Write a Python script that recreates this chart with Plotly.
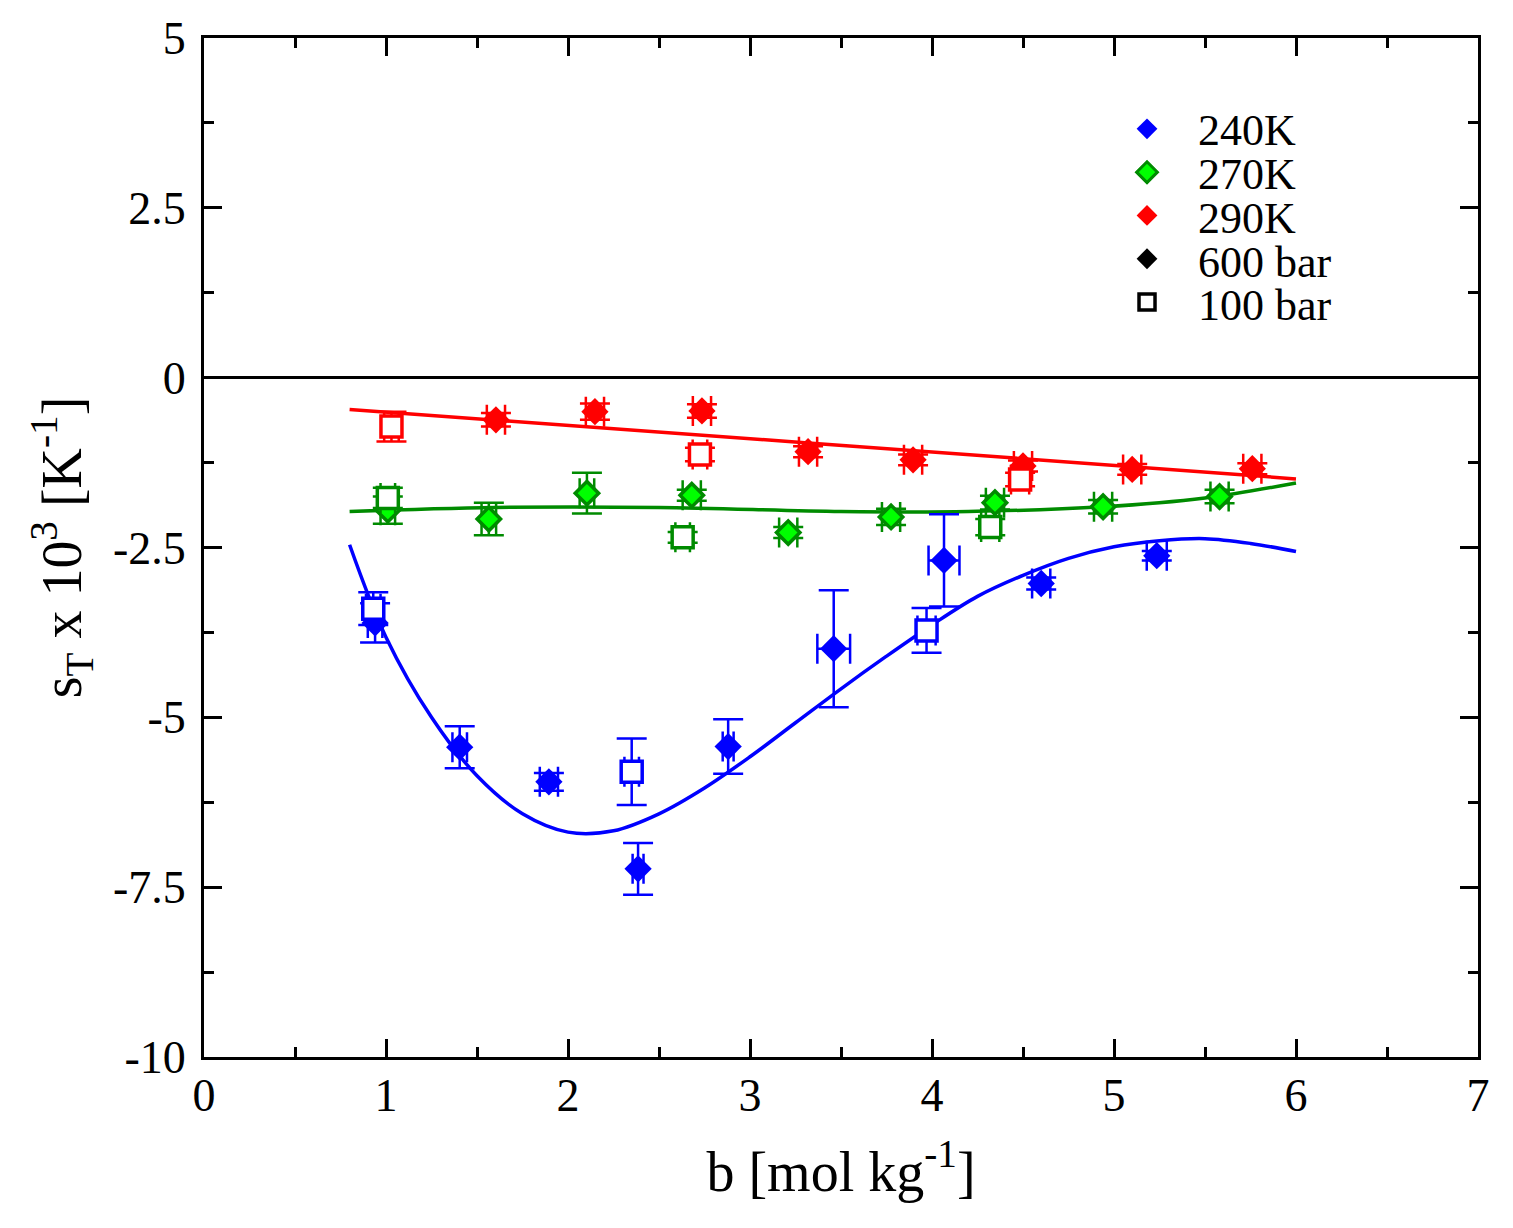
import plotly.graph_objects as go

# ---- data ----
blue600_x = [0.94, 1.405, 1.895, 2.385, 2.88, 3.46, 4.066, 4.60, 5.235]
blue600_y = [-3.61, -5.44, -5.95, -7.23, -5.43, -3.99, -2.69, -3.03, -2.62]
blue600_yerr = [0.29, 0.31, 0.13, 0.38, 0.40, 0.86, 0.68, 0.09, 0.07]
blue600_xerr = [0.04, 0.04, 0.05, 0.03, 0.03, 0.09, 0.085, 0.05, 0.055]

blue100_x = [0.93, 2.35, 3.97]
blue100_y = [-3.40, -5.80, -3.72]
blue100_yerr = [0.24, 0.49, 0.33]
blue100_xerr = [0.04, 0.04, 0.05]

green600_x = [1.01, 1.565, 2.104, 2.68, 3.21, 3.775, 4.346, 4.94, 5.58]
green600_y = [-1.95, -2.08, -1.70, -1.73, -2.28, -2.05, -1.84, -1.90, -1.75]
green600_yerr = [0.20, 0.24, 0.30, 0.08, 0.08, 0.12, 0.10, 0.10, 0.10]
green600_xerr = [0.04, 0.04, 0.04, 0.05, 0.05, 0.05, 0.05, 0.05, 0.05]

green100_x = [1.01, 2.63, 4.32]
green100_y = [-1.77, -2.35, -2.20]
green100_yerr = [0.15, 0.08, 0.12]
green100_xerr = [0.04, 0.04, 0.05]

red600_x = [1.604, 2.148, 2.736, 3.319, 3.896, 4.50, 5.10, 5.76]
red600_y = [-0.62, -0.50, -0.49, -1.09, -1.21, -1.30, -1.35, -1.34]
red600_yerr = [0.10, 0.12, 0.10, 0.08, 0.08, 0.08, 0.08, 0.08]
red600_xerr = [0.05, 0.05, 0.05, 0.05, 0.05, 0.05, 0.05, 0.05]

red100_x = [1.03, 2.725, 4.484]
red100_y = [-0.72, -1.13, -1.50]
red100_yerr = [0.22, 0.10, 0.10]
red100_xerr = [0.04, 0.04, 0.05]

# fitted curves
redfit_x = [0.8, 3.32, 6.0]
redfit_y = [-0.47, -0.96, -1.49]
greenfit_x = [0.8, 1.6, 2.5, 3.5, 4.2, 4.94, 5.5, 6.0]
greenfit_y = [-1.97, -1.91, -1.91, -1.97, -1.97, -1.90, -1.77, -1.55]
bluefit_x = [0.80, 1.00, 1.25, 1.50, 1.75, 2.00, 2.25, 2.50, 2.75, 3.00, 3.25, 3.50,
             3.75, 4.00, 4.25, 4.50, 4.75, 5.00, 5.25, 5.50, 5.75, 6.00]
bluefit_y = [-2.46, -3.82, -5.00, -5.86, -6.42, -6.69, -6.67, -6.42, -6.04, -5.58, -5.08, -4.58,
             -4.10, -3.64, -3.22, -2.91, -2.66, -2.49, -2.40, -2.37, -2.44, -2.56]

legend_names = ["240K", "270K", "290K", "600 bar", "100 bar"]
ytick_vals = [-10, -7.5, -5, -2.5, 0, 2.5, 5]
ytick_text = ["-10", "-7.5", "-5", "-2.5", "0", "2.5", "5"]
xtick_vals = [0, 1, 2, 3, 4, 5, 6, 7]

BLUE = "rgb(0,0,255)"
GREEN = "rgb(0,139,0)"
LIME = "rgb(0,255,0)"
RED = "rgb(255,0,0)"
FONT = "Liberation Serif, Times New Roman, serif"

fig = go.Figure()

# fit lines
for fx, fy, c in [(redfit_x, redfit_y, RED), (greenfit_x, greenfit_y, GREEN), (bluefit_x, bluefit_y, BLUE)]:
    fig.add_trace(go.Scatter(x=fx, y=fy, mode="lines", line=dict(color=c, width=3.5, shape="spline", smoothing=1.0),
                             showlegend=False, hoverinfo="skip"))

def pts(x, y, xe, ye, color, symbol, fill, lcolor, lw, size):
    fig.add_trace(go.Scatter(
        x=x, y=y, mode="markers", showlegend=False,
        marker=dict(symbol=symbol, size=size, color=fill, line=dict(color=lcolor, width=lw)),
        error_y=dict(type="data", array=ye, visible=True, color=color, thickness=2.5, width=15),
        error_x=dict(type="data", array=xe, visible=True, color=color, thickness=2.5, width=15),
    ))

pts(red600_x, red600_y, red600_xerr, red600_yerr, RED, "diamond", RED, RED, 0, 21)
pts(red100_x, red100_y, red100_xerr, red100_yerr, RED, "square", "white", RED, 3.5, 21)
pts(green600_x, green600_y, green600_xerr, green600_yerr, GREEN, "diamond", LIME, GREEN, 3.5, 18)
pts(green100_x, green100_y, green100_xerr, green100_yerr, GREEN, "square", "white", GREEN, 3.5, 21)
pts(blue600_x, blue600_y, blue600_xerr, blue600_yerr, BLUE, "diamond", BLUE, BLUE, 0, 21)
pts(blue100_x, blue100_y, blue100_xerr, blue100_yerr, BLUE, "square", "white", BLUE, 3.5, 21)

# legend symbols (labels drawn as annotations to match the tight row spacing)
leg_styles = [
    dict(symbol="diamond", color=BLUE, line=dict(width=0)),
    dict(symbol="diamond", color=LIME, line=dict(color=GREEN, width=3)),
    dict(symbol="diamond", color=RED, line=dict(width=0)),
    dict(symbol="diamond", color="black", line=dict(width=0)),
    dict(symbol="square", color="white", line=dict(color="black", width=3.5)),
]
for i, st in enumerate(leg_styles):
    fig.add_trace(go.Scatter(x=[None], y=[None], mode="markers", name="\u200b" * (i + 1),
                             marker=dict(size=18, **st)))

row_px = [130, 174, 218, 262, 305]
for name, yc in zip(legend_names, row_px):
    fig.add_annotation(xref="paper", yref="paper", x=(1196 - 204) / 1274, y=(1057 - yc) / 1019,
                       xanchor="left", yanchor="middle", showarrow=False, text=name,
                       font=dict(family=FONT, size=44, color="black"))

axis_common = dict(
    showline=True, linecolor="black", linewidth=3, mirror="allticks",
    ticks="inside", ticklen=18, tickwidth=2.5, tickcolor="black",
    showgrid=False,
    tickfont=dict(family=FONT, size=46, color="black"),
)

fig.update_xaxes(range=[0, 7], tickvals=xtick_vals, ticktext=[str(v) for v in xtick_vals],
                 zeroline=False,
                 minor=dict(ticks="inside", ticklen=10, tickwidth=2.5, tickcolor="black", dtick=0.5),
                 title=dict(text="b [mol kg<sup>-1</sup>]", font=dict(family=FONT, size=56, color="black"), standoff=32),
                 ticklabelstandoff=-4,
                 **axis_common)
fig.update_yaxes(range=[-10, 5], tickvals=ytick_vals, ticktext=ytick_text,
                 zeroline=True, zerolinecolor="black", zerolinewidth=2.5,
                 minor=dict(ticks="inside", ticklen=10, tickwidth=2.5, tickcolor="black", dtick=1.25),
                 title=dict(text="s<sub>T</sub> x 10<sup>3</sup> [K<sup>-1</sup>]", font=dict(family=FONT, size=56, color="black"), standoff=14),
                 ticklabelstandoff=6,
                 **axis_common)

fig.update_layout(
    width=1513, height=1228,
    margin=dict(l=204, r=35, t=38, b=171, autoexpand=False),
    paper_bgcolor="white", plot_bgcolor="white",
    font=dict(family=FONT, color="black"),
    legend=dict(x=0.7245, y=0.937, xanchor="left", yanchor="top",
                font=dict(family=FONT, size=31, color="black"),
                bgcolor="rgba(0,0,0,0)", borderwidth=0, tracegroupgap=0, itemsizing="trace"),
)

fig.write_html("out.html")
